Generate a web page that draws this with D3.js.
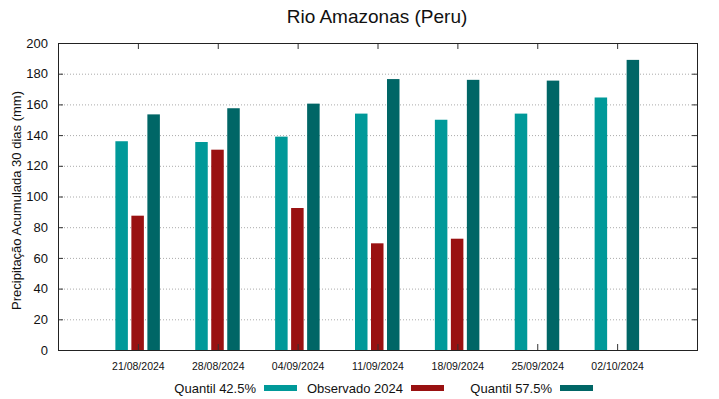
<!DOCTYPE html>
<html>
<head>
<meta charset="utf-8">
<script src="https://cdn.jsdelivr.net/npm/d3@7"></script>
<style>
body { margin: 0; background: #fff; }
text { font-family: "Liberation Sans", Arial, sans-serif; }
</style>
</head>
<body>
<script>
var dates = ["21/08/2024", "28/08/2024", "04/09/2024", "11/09/2024", "18/09/2024", "25/09/2024", "02/10/2024"]
var q425 = [136, 135.5, 139, 154, 150, 154, 164.5]
var obs2024 = [87.5, 130.5, 92.5, 69.5, 72.5, null, null]
var q575 = [153.5, 157.5, 160.5, 176.5, 176, 175.5, 189]
var yTicks = [0, 20, 40, 60, 80, 100, 120, 140, 160, 180, 200]

var series = [
  {name: "Quantil 42.5%", values: q425, color: "#009999", off: -16},
  {name: "Observado 2024", values: obs2024, color: "#991111", off: 0},
  {name: "Quantil 57.5%", values: q575, color: "#006666", off: 16}
]

var W = 719, H = 399
var mL = 58, mR = 697, mT = 43, mB = 350

var svg = d3.select("body").append("svg")
  .attr("width", W)
  .attr("height", H)

// slots 0..8, dates sit on 1..7
var x = d3.scaleLinear().domain([0, dates.length + 1]).range([mL, mR])
var y = d3.scaleLinear().domain([0, 200]).range([mB, mT])

// grid
svg.selectAll("line.grid")
  .data(yTicks.filter(function(d) { return d > 0 && d < 200 }))
  .enter().append("line")
  .attr("x1", mL).attr("x2", mR)
  .attr("y1", function(d) { return y(d) + 0.5 })
  .attr("y2", function(d) { return y(d) + 0.5 })
  .attr("stroke", "#aaa")
  .attr("stroke-width", 1)
  .attr("stroke-dasharray", "1,2")

// bars
series.forEach(function(s) {
  svg.selectAll("rect.b" + s.off)
    .data(s.values.map(function(v, i) { return {v: v, i: i} }).filter(function(d) { return d.v != null }))
    .enter().append("rect")
    .attr("x", function(d) { return x(d.i + 1) + s.off - 6.5 })
    .attr("width", 12.5)
    .attr("y", function(d) { return y(d.v) })
    .attr("height", function(d) { return y(0) - y(d.v) })
    .attr("fill", s.color)
})

// left axis
var yAxis = svg.append("g")
  .attr("transform", "translate(" + mL + ",0)")
  .call(d3.axisLeft(y).tickValues(yTicks).tickSize(-5).tickPadding(10))
yAxis.select(".domain").remove()
yAxis.selectAll("text").attr("font-size", 13).attr("fill", "#111")
yAxis.selectAll("line").attr("stroke", "#333")

// right ticks
var yAxisR = svg.append("g")
  .attr("transform", "translate(" + mR + ",0)")
  .call(d3.axisRight(y).tickValues(yTicks).tickSize(-5).tickFormat(""))
yAxisR.select(".domain").remove()
yAxisR.selectAll("line").attr("stroke", "#333")

// bottom axis
var xAxis = svg.append("g")
  .attr("transform", "translate(0," + mB + ")")
  .call(d3.axisBottom(x).tickValues(d3.range(1, dates.length + 1)).tickSize(-6).tickPadding(13)
    .tickFormat(function(d) { return dates[d - 1] }))
xAxis.select(".domain").remove()
xAxis.selectAll("text").attr("font-size", 10.5).attr("fill", "#111")
xAxis.selectAll("line").attr("stroke", "#333")

// top ticks
var xAxisT = svg.append("g")
  .attr("transform", "translate(0," + mT + ")")
  .call(d3.axisTop(x).tickValues(d3.range(1, dates.length + 1)).tickSize(-6).tickFormat(""))
xAxisT.select(".domain").remove()
xAxisT.selectAll("line").attr("stroke", "#333")

// frame
svg.append("rect")
  .attr("x", mL + 0.5).attr("y", mT + 0.5)
  .attr("width", mR - mL).attr("height", mB - mT)
  .attr("fill", "none")
  .attr("stroke", "#222")

// title
svg.append("text")
  .attr("x", 377).attr("y", 23)
  .attr("text-anchor", "middle")
  .attr("font-size", 19)
  .attr("fill", "#111")
  .text("Rio Amazonas (Peru)")

// y label
svg.append("text")
  .attr("transform", "translate(21," + ((mT + mB) / 2 + 4) + ") rotate(-90)")
  .attr("text-anchor", "middle")
  .attr("font-size", 13)
  .attr("fill", "#111")
  .text("Precipitação Acumulada 30 dias (mm)")

// legend
var legendX = [256, 403, 552]
var lg = svg.selectAll("g.legend")
  .data(series).enter().append("g")
  .attr("transform", function(d, i) { return "translate(" + legendX[i] + ",388)" })
lg.append("text")
  .attr("text-anchor", "end")
  .attr("y", 5)
  .attr("font-size", 13)
  .attr("fill", "#111")
  .text(function(d) { return d.name })
lg.append("rect")
  .attr("x", 8).attr("y", -3)
  .attr("width", 33).attr("height", 6)
  .attr("fill", function(d) { return d.color })
</script>
</body>
</html>
